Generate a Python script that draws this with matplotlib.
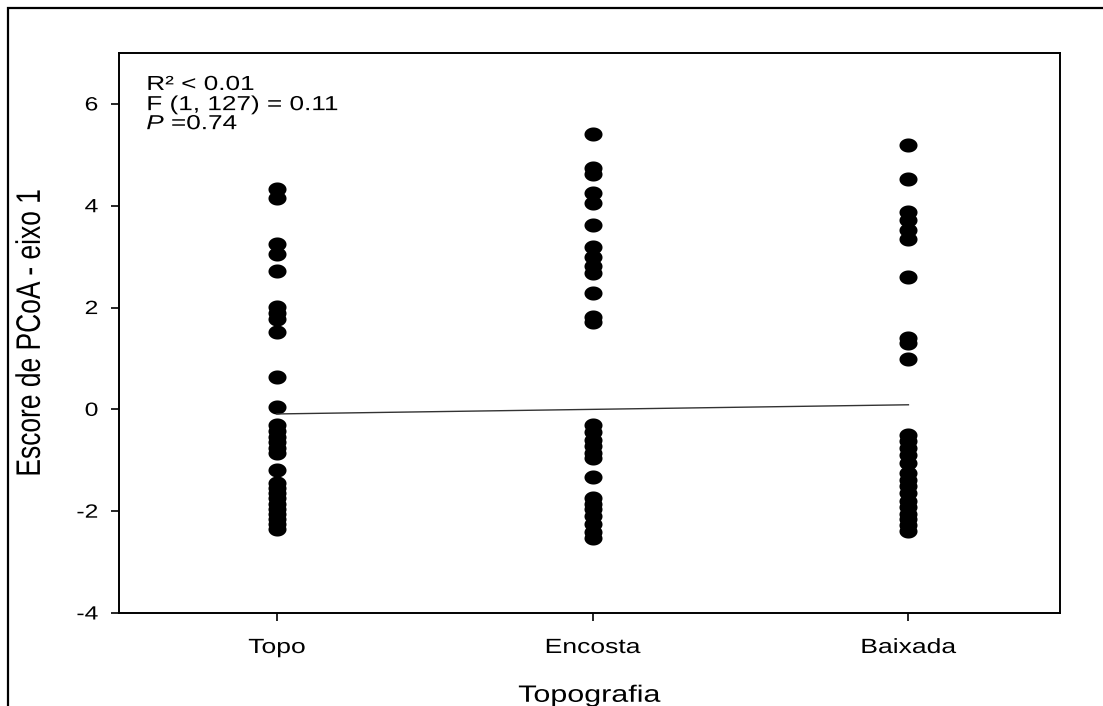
import numpy as np
import matplotlib
matplotlib.use("Agg")
import matplotlib.pyplot as plt
from matplotlib.path import Path
from matplotlib.patches import Rectangle
from matplotlib.patheffects import AbstractPathEffect
from matplotlib.transforms import Affine2D

plt.rcParams['font.family'] = ['Liberation Sans', 'DejaVu Sans']

categorias = ['Topo', 'Encosta', 'Baixada']

topo = [4.33, 4.15, 3.25, 3.05, 2.72, 2.02, 1.9, 1.78, 1.52, 0.63, 0.05,
        -0.3, -0.42, -0.54, -0.64, -0.76, -0.86, -1.2, -1.45, -1.55, -1.65,
        -1.75, -1.85, -1.95, -2.05, -2.15, -2.25, -2.35]
encosta = [5.4, 4.75, 4.62, 4.25, 4.05, 3.62, 3.18, 3.0, 2.82, 2.68, 2.28,
           1.82, 1.72, -0.3, -0.45, -0.6, -0.72, -0.85, -0.95, -1.33, -1.75,
           -1.85, -1.95, -2.1, -2.25, -2.4, -2.52]
baixada = [5.2, 4.52, 3.88, 3.72, 3.52, 3.35, 2.6, 1.4, 1.3, 0.98, -0.5,
           -0.62, -0.75, -0.9, -1.05, -1.25, -1.38, -1.5, -1.65, -1.8, -1.92,
           -2.05, -2.15, -2.28, -2.38]

# regressao linear (extremos da reta)
reta_x = [1, 3]
reta_y = [-0.09, 0.09]

ESTICA = 1.29  # alargamento horizontal do texto


class Estica(AbstractPathEffect):
    """Alarga o texto na horizontal em torno do ponto de ancoragem."""

    def __init__(self, sx=ESTICA, ancora='left'):
        super().__init__()
        self.sx = sx
        self.ancora = ancora

    def draw_path(self, renderer, gc, tpath, affine, rgbFace=None):
        ext = tpath.get_extents(affine)
        if self.ancora == 'left':
            cx = affine.transform((0, 0))[0]
        elif self.ancora == 'right':
            cx = ext.x1
        else:
            cx = 0.5 * (ext.x0 + ext.x1)
        novo = Affine2D(affine.get_matrix()).translate(-cx, 0).scale(self.sx, 1).translate(cx, 0)
        renderer.draw_path(gc, tpath, novo, rgbFace)


# marcador eliptico (um pouco mais largo que alto)
t = np.linspace(0, 2 * np.pi, 60)
elipse = Path(np.column_stack([np.cos(t), 0.78 * np.sin(t)]), closed=True)

fig = plt.figure(figsize=(11.03, 7.06), dpi=100)
ax = fig.add_axes([119 / 1103, 1 - 613 / 706, (1060 - 119) / 1103, (613 - 53) / 706])

for i, vals in enumerate([topo, encosta, baixada]):
    ax.plot([i + 1] * len(vals), vals, linestyle='none', marker=elipse,
            markersize=13, color='black', markeredgewidth=0)

ax.plot(reta_x, reta_y, color='#333333', lw=1.0)

ax.set_xlim(0.5, 3.48)
ax.set_ylim(-4, 7)
ax.set_yticks([-4, -2, 0, 2, 4, 6])
ax.set_yticklabels(['-4', '-2', '0', '2', '4', '6'])
ax.set_xticks([1, 2, 3])
ax.set_xticklabels(categorias)

for s in ax.spines.values():
    s.set_linewidth(1.4)
ax.tick_params(direction='out', length=6, width=1.2)
ax.tick_params(axis='y', labelsize=13.8, pad=9)
ax.tick_params(axis='x', labelsize=14.8, pad=12)

for lab in ax.get_yticklabels():
    lab.set_path_effects([Estica(ancora='right')])
for lab in ax.get_xticklabels():
    lab.set_path_effects([Estica(ancora='center')])

xl = ax.set_xlabel('Topografia', fontsize=17, labelpad=20)
yl = ax.set_ylabel('Escore de PCoA - eixo 1', fontsize=19, labelpad=28)
xl.set_path_effects([Estica(ancora='center')])
yl.set_path_effects([Estica(ancora='center')])

# estatisticas da regressao
fs = 14.6
x0 = 0.029
l1 = ax.text(x0, 0.934, 'R\u00b2 < 0.01', transform=ax.transAxes,
             ha='left', va='baseline', fontsize=fs)
l2 = ax.text(x0, 0.898, 'F (1, 127) = 0.11', transform=ax.transAxes,
             ha='left', va='baseline', fontsize=fs)
l3 = ax.text(x0, 0.864, 'P', transform=ax.transAxes, style='italic',
             ha='left', va='baseline', fontsize=fs)
l4 = ax.annotate(' =0.74', xy=(1, 0), xycoords=l3, xytext=(2.8, 0),
                 textcoords='offset points', ha='left', va='bottom',
                 fontsize=fs)
for lab in (l1, l2, l3, l4):
    lab.set_path_effects([Estica(ancora='left')])

# moldura externa
fig.patches.append(Rectangle((8 / 1103, -0.05), 1.2, 1 - 8 / 706 + 0.05,
                             transform=fig.transFigure, fill=False,
                             lw=1.6, edgecolor='black'))

fig.savefig('out.png', dpi=100)
